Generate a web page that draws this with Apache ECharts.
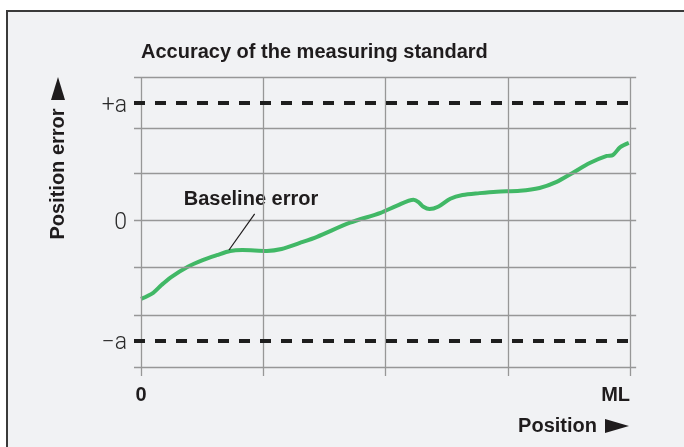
<!DOCTYPE html>
<html lang="en">
<head>
    <meta charset="UTF-8">
    <title>Accuracy of the measuring standard</title>
    <script src="https://cdn.jsdelivr.net/npm/echarts@6/dist/echarts.min.js"></script>
    <style>html, body {margin: 0; padding: 0; background: #fff;}</style>
</head>
<body>
<div id="main" style="width: 684px;height: 447px;"></div>

<script type="text/javascript">
    // position along the scale, 0 .. ML (ML = 4 grid columns)
    var positions = [0, 0.1, 0.17, 0.25, 0.38, 0.51, 0.62, 0.73, 0.83, 1.03, 1.15, 1.3, 1.44, 1.71,
        1.96, 2.09, 2.23, 2.27, 2.31, 2.36, 2.43, 2.53, 2.63, 2.77, 2.91, 3.1, 3.26, 3.4, 3.53,
        3.67, 3.81, 3.86, 3.92, 3.99];
    // baseline error, one unit = one grid row
    var errors = [-1.68, -1.55, -1.38, -1.21, -1.0, -0.85, -0.75, -0.66, -0.64, -0.66, -0.62, -0.49, -0.36, -0.06,
        0.15, 0.3, 0.43, 0.38, 0.28, 0.23, 0.28, 0.45, 0.53, 0.57, 0.6, 0.62, 0.68, 0.81, 1.0,
        1.21, 1.36, 1.38, 1.55, 1.64];

    var gridRows = [3.04, 1.94, 1, 0, -1, -2.02, -3.13];
    var gridCols = [0, 1, 2, 3, 4];
    var limitRows = [2.49, -2.57];            // +a / -a
    var yTicks = [2.49, 0, -2.57];
    var yTickLabels = ['+a', '0', '\u2212a'];
    var xTicks = [0, 4];
    var xTickLabels = ['0', 'ML'];

    var xMin = -0.057, xMax = 4.057;
    var yMin = -3.32, yMax = 3.04;

    var curve = positions.map(function (p, i) { return [p, errors[i]]; });

    var gridLines = [];
    gridRows.forEach(function (r) {
        gridLines.push([{coord: [xMin, r]}, {coord: [4.05, r]}]);
    });
    gridCols.forEach(function (c) {
        gridLines.push([{coord: [c, yMax]}, {coord: [c, yMin]}]);
    });
    var limitLines = limitRows.map(function (r) {
        return [{coord: [xMin, r]}, {coord: [xMax, r]}];
    });

    var myChart = echarts.init(document.getElementById('main'));

    var option = {
        animation: false,
        grid: {left: 134, right: 47, top: 77, bottom: 71},
        xAxis: {
            type: 'value', min: xMin, max: xMax,
            axisLine: {show: false}, axisTick: {show: false}, splitLine: {show: false},
            axisLabel: {
                customValues: xTicks,
                alignMaxLabel: 'right',
                margin: 9,
                fontFamily: 'Liberation Sans, Arial, sans-serif',
                fontWeight: 'bold', fontSize: 20, color: '#1f1c1d',
                formatter: function (v) { return xTickLabels[xTicks.indexOf(v)]; }
            }
        },
        yAxis: {
            type: 'value', min: yMin, max: yMax,
            axisLine: {show: false}, axisTick: {show: false}, splitLine: {show: false},
            axisLabel: {
                customValues: yTicks,
                margin: 7,
                verticalAlign: 'top',
                lineHeight: 6,
                fontFamily: 'Roboto, sans-serif',
                fontWeight: 300, fontSize: 23, color: '#2a2a2a',
                formatter: function (v) { return yTickLabels[yTicks.indexOf(v)]; }
            }
        },
        graphic: [
            {type: 'rect', z: -10, shape: {x: 7, y: 11, width: 700, height: 460},
                style: {fill: '#f1f2f4', stroke: '#3a3a3a', lineWidth: 2}},
            {type: 'text', x: 141, y: 52, style: {text: 'Accuracy of the measuring standard',
                font: 'bold 20px "Liberation Sans", Arial, sans-serif', fill: '#1f1c1d',
                verticalAlign: 'middle'}},
            {type: 'text', x: 58, y: 174, rotation: Math.PI / 2, style: {text: 'Position error',
                font: 'bold 20px "Liberation Sans", Arial, sans-serif', fill: '#1f1c1d',
                align: 'center', verticalAlign: 'middle'}},
            {type: 'polygon', shape: {points: [[51, 100], [65, 100], [58, 77]]}, style: {fill: '#1f1c1d'}},
            {type: 'text', x: 597, y: 426, style: {text: 'Position',
                font: 'bold 20px "Liberation Sans", Arial, sans-serif', fill: '#1f1c1d',
                align: 'right', verticalAlign: 'middle'}},
            {type: 'polygon', shape: {points: [[605, 419], [605, 433], [629, 426]]}, style: {fill: '#1f1c1d'}},
            {type: 'text', x: 251, y: 199, style: {text: 'Baseline error',
                font: 'bold 20px "Liberation Sans", Arial, sans-serif', fill: '#1f1c1d',
                align: 'center', verticalAlign: 'middle'}}
        ],
        series: [
            {
                type: 'line', data: [], z: 1, silent: true,
                markLine: {
                    silent: true, symbol: ['none', 'none'], label: {show: false},
                    lineStyle: {color: '#979797', width: 1.3, type: 'solid'},
                    emphasis: {disabled: true},
                    data: gridLines
                }
            },
            {
                type: 'line', data: [], z: 2, silent: true,
                markLine: {
                    silent: true, symbol: ['none', 'none'], label: {show: false},
                    lineStyle: {color: '#1e1e1e', width: 4, type: [11, 10]},
                    emphasis: {disabled: true},
                    data: limitLines
                }
            },
            {
                type: 'line', data: [], z: 3, silent: true,
                markLine: {
                    silent: true, symbol: ['none', 'none'], label: {show: false},
                    lineStyle: {color: '#1f1c1d', width: 1.2, type: 'solid'},
                    emphasis: {disabled: true},
                    data: [[{coord: [0.93, 0.13]}, {coord: [0.72, -0.64]}]]
                }
            },
            {
                name: 'Baseline error',
                type: 'line', z: 4,
                data: curve,
                smooth: 0.3,
                showSymbol: false,
                lineStyle: {color: '#41b866', width: 4}
            }
        ]
    };

    myChart.setOption(option);
</script>
</body>
</html>
